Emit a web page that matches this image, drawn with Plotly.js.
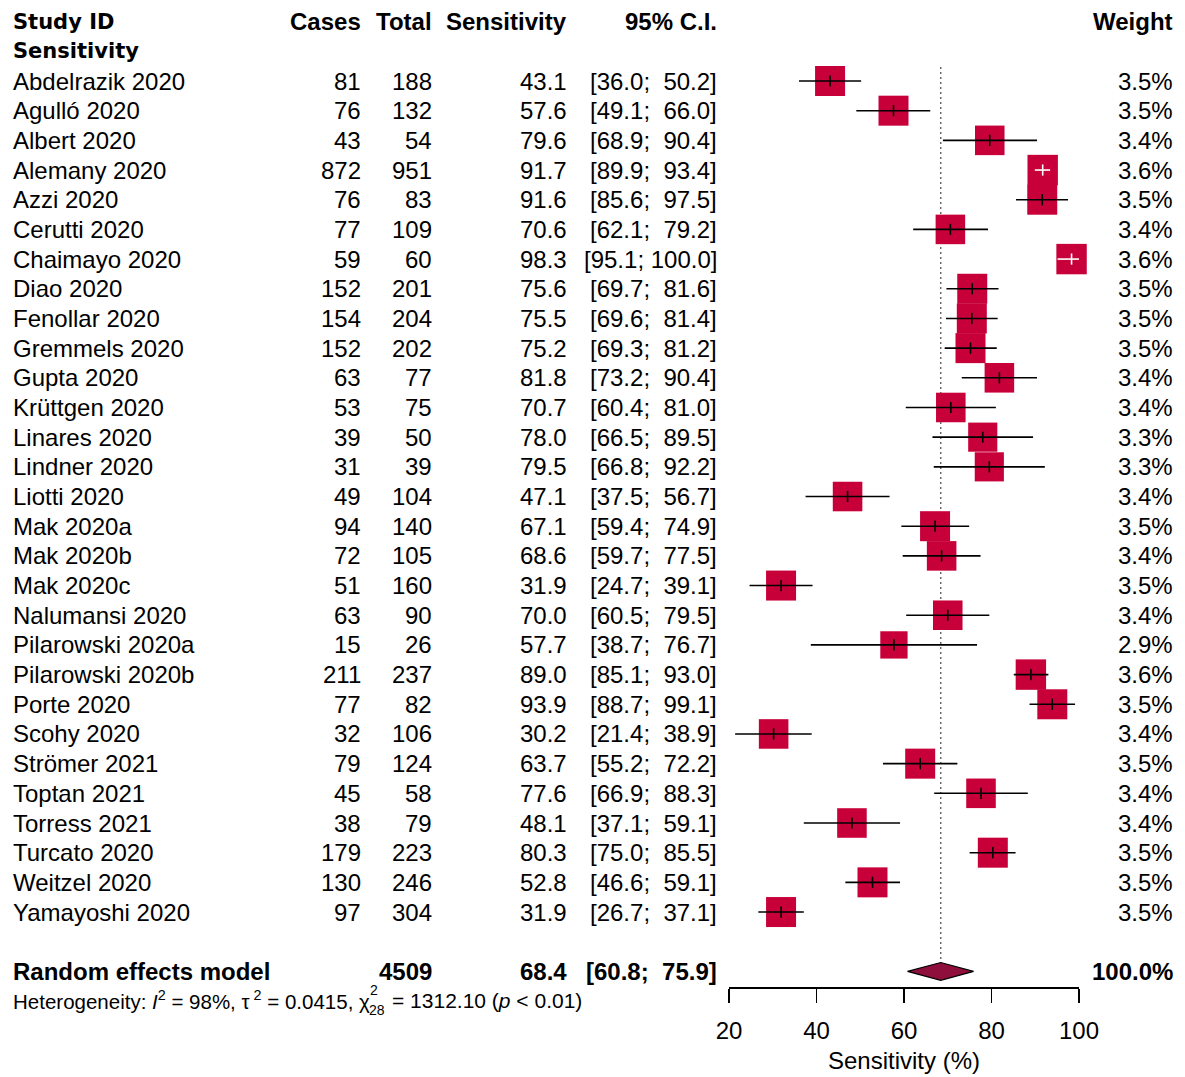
<!DOCTYPE html>
<html>
<head>
<meta charset="utf-8">
<script src="https://cdn.plot.ly/plotly-3.0.1.min.js"></script>
<style>html,body{margin:0;padding:0;background:#fff;}#chart{width:1185px;height:1077px;}</style>
</head>
<body>
<div id="chart"></div>
<script>
const studies = ["Abdelrazik 2020","Agulló 2020","Albert 2020","Alemany 2020","Azzi 2020","Cerutti 2020","Chaimayo 2020","Diao 2020","Fenollar 2020","Gremmels 2020","Gupta 2020","Krüttgen 2020","Linares 2020","Lindner 2020","Liotti 2020","Mak 2020a","Mak 2020b","Mak 2020c","Nalumansi 2020","Pilarowski 2020a","Pilarowski 2020b","Porte 2020","Scohy 2020","Strömer 2021","Toptan 2021","Torress 2021","Turcato 2020","Weitzel 2020","Yamayoshi 2020"];
const cases  = [81,76,43,872,76,77,59,152,154,152,63,53,39,31,49,94,72,51,63,15,211,77,32,79,45,38,179,130,97];
const totals = [188,132,54,951,83,109,60,201,204,202,77,75,50,39,104,140,105,160,90,26,237,82,106,124,58,79,223,246,304];
const sens   = [43.1,57.6,79.6,91.7,91.6,70.6,98.3,75.6,75.5,75.2,81.8,70.7,78.0,79.5,47.1,67.1,68.6,31.9,70.0,57.7,89.0,93.9,30.2,63.7,77.6,48.1,80.3,52.8,31.9];
const lower  = [36.0,49.1,68.9,89.9,85.6,62.1,95.1,69.7,69.6,69.3,73.2,60.4,66.5,66.8,37.5,59.4,59.7,24.7,60.5,38.7,85.1,88.7,21.4,55.2,66.9,37.1,75.0,46.6,26.7];
const upper  = [50.2,66.0,90.4,93.4,97.5,79.2,100.0,81.6,81.4,81.2,90.4,81.0,89.5,92.2,56.7,74.9,77.5,39.1,79.5,76.7,93.0,99.1,38.9,72.2,88.3,59.1,85.5,59.1,37.1];
const weights = [3.5,3.5,3.4,3.6,3.5,3.4,3.6,3.5,3.5,3.5,3.4,3.4,3.3,3.3,3.4,3.5,3.4,3.5,3.4,2.9,3.6,3.5,3.4,3.5,3.4,3.4,3.5,3.5,3.5];
const pooledLabel = "Random effects model";
const pooledTotal = 4509;
const pooledEst = 68.4, pooledLo = 60.8, pooledHi = 75.9;
const pooledWeight = "100.0%";
const hetI2 = "98%", hetTau2 = "0.0415", hetDf = "28", hetQ = "1312.10", hetP = "0.01";
const xTicks = [20,40,60,80,100];
const xTitle = "Sensitivity (%)";
const headers = {study:"Study ID", sub:"Sensitivity", cases:"Cases", total:"Total", sens:"Sensitivity", ci:"95% C.I.", weight:"Weight"};

// ---- layout geometry ----
const W = 1185, H = 1077;
const row0 = 81, rowH = 29.68;
const yTop = -row0/rowH, yBot = (H-row0)/rowH;
const rows = studies.map((_,i)=>i);
const pooledRow = studies.length + 1;
const pxPerUnit = 350/80;
const FONT = "Liberation Sans, Arial, Helvetica, sans-serif";
const FONT2 = "DejaVu Sans, Verdana, sans-serif";
const FS = 24;
const RED = "#C8003A", DIAM = "#8E0E3C";
const rowOfPx = px => (px - row0)/rowH;

const sqSize = weights.map(w => 30*Math.sqrt(w/3.5));
const inside = sens.map((_,i) => (upper[i]-lower[i])*pxPerUnit < sqSize[i]);

function sel(arr, flag){ return arr.map((v,i)=> inside[i]===flag ? v : null); }
function ciStr(lo, hi){ return "[" + lo.toFixed(1) + "; " + hi.toFixed(1).padStart(5, "\u00A0") + "]"; }

const traces = [];
traces.push({x: sens, y: rows, type:"scatter", mode:"markers", cliponaxis:false,
  marker:{symbol:"square", size: sqSize, color: RED, opacity:1, line:{width:0}}, hoverinfo:"skip"});
[false,true].forEach(flag=>{
  const col = flag ? "white" : "black";
  traces.push({x: sel(sens,flag), y: rows, type:"scatter", mode:"markers", cliponaxis:false,
    marker:{symbol:"line-ns", size:8, color:col, opacity:1, line:{color:col, width:1.6}},
    error_x:{type:"data", symmetric:false,
      array: sens.map((s,i)=>upper[i]-s), arrayminus: sens.map((s,i)=>s-lower[i]),
      width:0, thickness:1.6, color:col}, hoverinfo:"skip"});
});
// diamond
traces.push({x:[pooledLo, pooledEst, pooledHi, pooledEst, pooledLo],
  y:[pooledRow, pooledRow-0.3, pooledRow, pooledRow+0.3, pooledRow],
  type:"scatter", mode:"lines", fill:"toself", fillcolor:DIAM, cliponaxis:false,
  line:{color:"black", width:1.2}, hoverinfo:"skip"});

const ann = [];
function A(px, row, text, anchor, opts){
  ann.push(Object.assign({xref:"paper", yref:"y", x: px/W, y: row, text: text, xanchor: anchor, yanchor:"middle",
    showarrow:false, borderpad:0, font:{family:FONT, size:FS, color:"black"}}, opts||{}));
}
// headers
A(12, -2, "<b>"+headers.study+"</b>", "left", {font:{family:FONT2, size:21, color:"black"}});
A(12, -1, "<b>"+headers.sub+"</b>", "left", {font:{family:FONT2, size:21, color:"black"}});
A(362, -2, "<b>"+headers.cases+"</b>", "right");
A(433, -2, "<b>"+headers.total+"</b>", "right");
A(568, -2, "<b>"+headers.sens+"</b>", "right");
A(718, -2, "<b>"+headers.ci+"</b>", "right");
A(1174, -2, "<b>"+headers.weight+"</b>", "right");
rows.forEach(i=>{
  A(12, i, studies[i], "left");
  A(362, i, String(cases[i]), "right");
  A(433, i, String(totals[i]), "right");
  A(568, i, sens[i].toFixed(1), "right");
  A(718, i, ciStr(lower[i], upper[i]), "right");
  A(1174, i, weights[i].toFixed(1)+"%", "right");
});
A(12, pooledRow, "<b>"+pooledLabel+"</b>", "left");
A(433, pooledRow, "<b>"+pooledTotal+"</b>", "right");
A(568, pooledRow, "<b>"+pooledEst.toFixed(1)+"</b>", "right");
A(718, pooledRow, "<b>"+ciStr(pooledLo, pooledHi)+"</b>", "right");
A(1174, pooledRow, "<b>"+pooledWeight+"</b>", "right");

// heterogeneity line: main part, stacked chi-square indices, tail
const hy = rowOfPx(1000);
const hf = s => ({font:{family:FONT, size:s, color:"black"}});
A(12, hy, "Heterogeneity: <i>I</i><sup>2</sup> = " + hetI2 + ", τ<sup> 2</sup> = " + hetTau2 + ", χ", "left", hf(20.5));
A(369, rowOfPx(990), "2", "left", hf(14));
A(368, rowOfPx(1010), hetDf, "left", hf(14));
A(391, hy, "= " + hetQ + " (<i>p</i> &lt; " + hetP + ")", "left", hf(21));

ann.push({xref:"x", yref:"y", x:60, y: rowOfPx(1060), text: xTitle, showarrow:false, xanchor:"center", yanchor:"middle",
  font:{family:FONT, size:FS, color:"black"}});

const layout = {
  width: W, height: H, margin:{l:0,r:0,t:0,b:0},
  paper_bgcolor:"white", plot_bgcolor:"rgba(0,0,0,0)", showlegend:false,
  xaxis:{domain:[729/W, 1079/W], range:[20,100], anchor:"free", position: 1-987/H,
    tickvals: xTicks, ticks:"outside", ticklen:14, tickwidth:1.5, tickcolor:"black",
    showline:true, linewidth:1.5, linecolor:"black", showgrid:false, zeroline:false,
    tickfont:{family:FONT, size:FS, color:"black"}, ticklabelstandoff:8, fixedrange:true},
  yaxis:{domain:[0,1], range:[yBot, yTop], visible:false, fixedrange:true},
  shapes:[{type:"line", xref:"x", yref:"y", x0:pooledEst, x1:pooledEst, y0:-0.47, y1:pooledRow-0.3,
    line:{color:"#555", width:1.3, dash:"2px,3px"}, layer:"below"}],
  annotations: ann
};
Plotly.newPlot("chart", traces, layout, {staticPlot:true});
</script>
</body>
</html>
